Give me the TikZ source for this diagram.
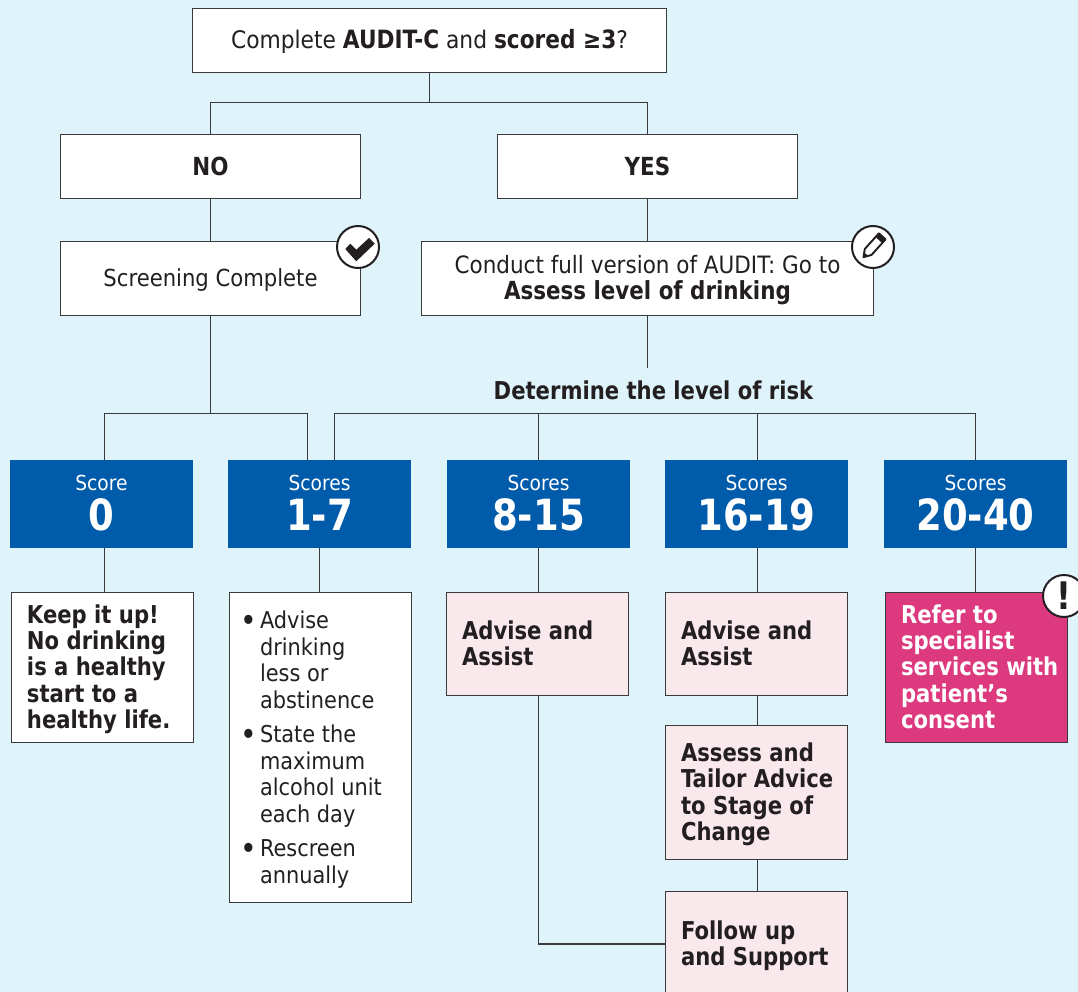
\documentclass[tikz,border=0pt]{standalone}
\usepackage{fontspec}
\setmainfont{DejaVu Sans}[FakeStretch=0.9,BoldFeatures={FakeStretch=0.86}]
\definecolor{bgc}{HTML}{DFF3FB}
\definecolor{inkc}{HTML}{231F20}
\definecolor{linec}{HTML}{3A3A3C}
\definecolor{bluec}{HTML}{005BAA}
\definecolor{palec}{HTML}{F9E8EC}
\definecolor{magc}{HTML}{DC397E}
\newcommand{\fs}[1]{\fontsize{#1}{#1}\selectfont}
\newcommand{\bul}{\makebox[30.5pt][l]{\hspace{11pt}\raisebox{-2.6pt}{\scalebox{1.35}{\textbullet}}}}
\newcommand{\ind}{\hspace*{30.5pt}}
\newcommand{\toprule}[1]{\rule{0pt}{#1}}
\newcommand{\botrule}[1]{\rule[-#1]{0pt}{#1}}
\newcommand{\boldpanel}[1]{\begin{minipage}{182pt}\leftskip=15.5pt\fs{24.6}\bfseries\baselineskip=26.4pt\toprule{22pt}#1\botrule{5.2pt}\end{minipage}}
\newcommand{\scoretext}[2]{\begin{minipage}{180pt}\centering\baselineskip=40pt\toprule{18pt}{\fs{20.7}#1}\\{\fs{43}\bfseries #2}\botrule{6pt}\end{minipage}}
\newcommand{\oneline}[1]{\toprule{22pt}#1\botrule{6pt}}
\tikzset{
  x=1pt,y=-1pt,
  link/.style={draw=linec,line width=1.3pt},
  box/.style={draw=linec,line width=1.5pt,fill=white,text=inkc,inner sep=0pt,align=center,anchor=center},
  main/.style={box,font=\fs{23.5}},
  headbox/.style={box,font=\fs{24.9}\bfseries},
  scorebox/.style={fill=bluec,text=white,inner sep=0pt,align=center,anchor=center,minimum width=183pt,minimum height=88pt},
  pale/.style={box,fill=palec,minimum width=182pt},
  badge/.style={circle,draw=inkc,line width=2pt,fill=white,minimum size=42pt,inner sep=0pt,text=inkc},
}
\begin{document}
\begin{tikzpicture}
\clip (0,0) rectangle (1078,992);
\fill[bgc] (0,0) rectangle (1078,992);
% junctions
\coordinate (jtop) at (429.5,102.5);
\coordinate (jleft) at (210.5,413.5);
\coordinate (a0) at (104.5,413.5);
\coordinate (a1) at (307.5,413.5);
\coordinate (r1) at (334.5,413.5);
\coordinate (r2) at (538.5,413.5);
\coordinate (r3) at (757.5,413.5);
\coordinate (r4) at (975.5,413.5);
\coordinate (cend) at (647.5,368);
% boxes
\node[main,minimum width=474pt,minimum height=64pt] (top) at (429.5,40.5) {\oneline{\fs{24.2}Complete \textbf{\fs{25.2}AUDIT-C} and \textbf{\fs{25.2}scored ≥3}?}};
\node[headbox,minimum width=300pt,minimum height=64pt] (no) at (210.5,166.5) {NO};
\node[headbox,minimum width=300pt,minimum height=64pt] (yes) at (647.5,166.5) {YES};
\node[main,minimum width=300pt,minimum height=74pt] (screen) at (210.5,278.5) {\oneline{Screening Complete}};
\node[main,minimum width=452pt,minimum height=74pt] (conduct) at (647.5,278.5) {\begin{minipage}{450pt}\centering\fs{23.9}\baselineskip=26pt\toprule{21pt}Conduct full version of AUDIT: Go to\\{\fs{24.9}\bfseries Assess level of drinking}\botrule{6pt}\end{minipage}};
\node[text=inkc,font=\fs{24.6}\bfseries,inner sep=0pt] (risk) at (653.5,390) {Determine the level of risk};
\node[scorebox] (s0) at (101.5,504) {\scoretext{Score}{0}};
\node[scorebox] (s1) at (319.5,504) {\scoretext{Scores}{1-7}};
\node[scorebox] (s2) at (538.5,504) {\scoretext{Scores}{8-15}};
\node[scorebox] (s3) at (756.5,504) {\scoretext{Scores}{16-19}};
\node[scorebox] (s4) at (975.5,504) {\scoretext{Scores}{20-40}};
\node[box,minimum width=182pt,minimum height=150pt] (keep) at (102.5,667.5) {\boldpanel{Keep it up!\\No drinking\\is a healthy\\start to a\\healthy life.}};
\node[box,minimum width=182pt,minimum height=310pt] (advice) at (320.5,747.5) {\begin{minipage}{182pt}\fs{23.2}\baselineskip=26.4pt\toprule{22pt}%
\bul Advise\\\ind drinking\\\ind less or\\\ind abstinence\\[8.4pt]
\bul State the\\\ind maximum\\\ind alcohol unit\\\ind each day\\[8.4pt]
\bul Rescreen\\\ind annually\botrule{5pt}\end{minipage}};
\node[pale,minimum height=103pt] (p2) at (537.5,644) {\boldpanel{Advise and\\Assist}};
\node[pale,minimum height=103pt] (p3) at (756.5,644) {\boldpanel{Advise and\\Assist}};
\node[pale,minimum height=134pt] (p4) at (756.5,792.5) {\boldpanel{Assess and\\Tailor Advice\\to Stage of\\Change}};
\node[pale,minimum height=105pt] (p5) at (756.5,944) {\boldpanel{Follow up\\and Support}};
\node[box,fill=magc,text=white,minimum width=182pt,minimum height=150pt] (refer) at (976.5,667.5) {\boldpanel{Refer to\\specialist\\services with\\patient’s\\consent}};
% badges
\node[badge] (check) at (358,247) {};
\fill[inkc,line join=round,shift={(check.center)}]
  (-12.7,2) -- (-7.7,-3.3) -- (-1.7,2.7) -- (11,-9) -- (16.7,-3.3) -- (-1.7,14.3) -- cycle;
\node[badge] (pencil) at (873,247) {};
\begin{scope}[shift={(pencil.center)},shift={(0.5,-1)},rotate=48]
\draw[inkc,line width=1.9pt,line join=round] (-15,0) -- (-8,-4.5) -- (13,-4.5) -- (13,4.5) -- (-8,4.5) -- cycle;
\fill[inkc] (8,-4.5) rectangle (13,4.5);
\fill[inkc] (-15,0) -- (-11,-2.5) -- (-11,2.5) -- cycle;
\end{scope}
\node[badge,font=\bfseries\fs{38}] (bang) at (1064,596) {!};
% connectors
\draw[link] (top.south -| jtop) -- (jtop);
\draw[link] (no.north) |- (jtop) -| (yes.north);
\draw[link] (no.south) -- (screen.north);
\draw[link] (yes.south) -- (conduct.north);
\draw[link] (screen.south) -- (jleft);
\draw[link] (s0.north -| a0) -- (a0) -- (a1) -- (s1.north -| a1);
\draw[link] (conduct.south) -- (cend);
\draw[link] (s1.north -| r1) -- (r1) -- (r4) -- (s4.north -| r4);
\draw[link] (r2) -- (s2.north -| r2);
\draw[link] (r3) -- (s3.north -| r3);
\draw[link] (s0.south -| a0) -- (keep.north -| a0);
\draw[link] (s1.south) -- (advice.north -| s1.south);
\draw[link] (s2.south) -- (p2.north -| s2.south);
\draw[link] (s3.south -| r3) -- (p3.north -| r3);
\draw[link] (s4.south) -- (refer.north -| s4.south);
\draw[link] (p3.south -| r3) -- (p4.north -| r3);
\draw[link] (p4.south -| r3) -- (p5.north -| r3);
\draw[link] (p2.south -| r2) |- (p5.west);
\end{tikzpicture}
\end{document}
